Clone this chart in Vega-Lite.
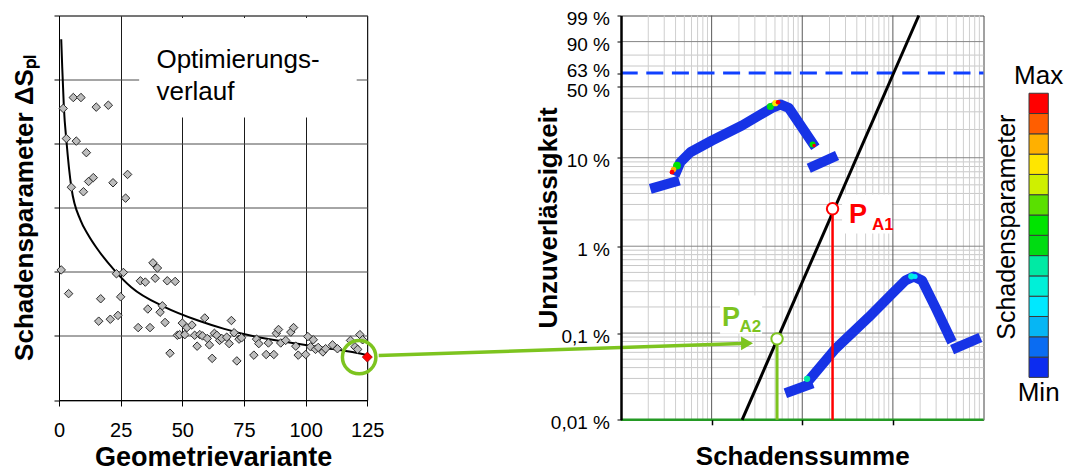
{
  "$schema": "https://vega.github.io/schema/vega-lite/v6.json",
  "background": "white",
  "padding": {"left": 11, "top": 8.5, "right": 4, "bottom": 0},
  "config": {"font": "Liberation Sans", "view": {"stroke": "#444444"}},
  "bounds": "flush",
  "spacing": 253,
  "hconcat": [
    {
      "width": 308.3,
      "height": 384.5,
      "layer": [
        {
          "data": {"values": [{"v": 32.5, "v2": 120.7, "s": 4.41, "s2": 5.96}]},
          "mark": {"type": "rect", "fill": "white"},
          "encoding": {
            "x": {"field": "v", "type": "quantitative", "scale": {"domain": [0, 125], "nice": false, "zero": false},
              "axis": {"values": [0, 25, 50, 75, 100, 125], "grid": true, "gridColor": "#1a1a1a", "gridWidth": 1, "domainColor": "black", "tickColor": "black", "tickSize": 6, "labelFontSize": 20, "labelPadding": 14, "labelFlush": false, "labelColor": "black", "title": "Geometrievariante", "titleFontSize": 27, "titleFontWeight": "bold", "titleColor": "black", "titleY": 57, "titleBaseline": "middle"}},
            "x2": {"field": "v2"},
            "y": {"field": "s", "type": "quantitative", "scale": {"domain": [0, 6], "nice": false},
              "axis": {"values": [0, 1, 2, 3, 4, 5, 6], "labels": false, "grid": true, "gridColor": "#4d4d4d", "domainColor": "black", "tickColor": "black", "tickSize": 5, "title": "Schadensparameter ΔSₚₗ", "titleFontSize": 26, "titleFontWeight": "bold", "titleColor": "black", "titleX": -34.5, "titleY": 192, "titleBaseline": "middle"}},
            "y2": {"field": "s2"}
          }
        },
        {
          "data": {"values": [
            {"v": 0.9, "s": 5.63}, {"v": 1.3, "s": 5.2}, {"v": 2.0, "s": 4.55}, {"v": 3.0, "s": 4.05}, {"v": 5.0, "s": 3.32}, {"v": 8.8, "s": 2.8}, {"v": 11.8, "s": 2.58}, {"v": 15.5, "s": 2.36}, {"v": 22.6, "s": 2.02}, {"v": 29.3, "s": 1.76}, {"v": 42.9, "s": 1.45}, {"v": 56.4, "s": 1.24}, {"v": 67.0, "s": 1.11}, {"v": 79.4, "s": 0.99}, {"v": 92.9, "s": 0.9}, {"v": 106.4, "s": 0.82}, {"v": 120.0, "s": 0.74}, {"v": 125.0, "s": 0.7}
          ]},
          "mark": {"type": "line", "color": "black", "strokeWidth": 2, "interpolate": "monotone"},
          "encoding": {"x": {"field": "v", "type": "quantitative"}, "y": {"field": "s", "type": "quantitative"}}
        },
        {
          "data": {"values": [
            {"v": 0.9, "s": 2.03}, {"v": 1.7, "s": 4.55}, {"v": 3.0, "s": 4.08}, {"v": 3.9, "s": 1.66}, {"v": 5.0, "s": 3.32}, {"v": 5.8, "s": 4.72}, {"v": 7.0, "s": 4.04}, {"v": 8.9, "s": 4.72}, {"v": 9.9, "s": 3.25}, {"v": 11.1, "s": 3.86}, {"v": 12.0, "s": 3.41}, {"v": 13.9, "s": 3.47}, {"v": 15.1, "s": 4.57}, {"v": 16.1, "s": 1.23}, {"v": 16.9, "s": 1.58}, {"v": 20.0, "s": 4.6}, {"v": 20.8, "s": 1.26}, {"v": 21.9, "s": 3.39}, {"v": 23.3, "s": 1.97}, {"v": 23.9, "s": 1.32}, {"v": 25.0, "s": 1.61}, {"v": 26.1, "s": 1.99}, {"v": 27.0, "s": 3.15}, {"v": 27.8, "s": 3.52}, {"v": 32.1, "s": 1.13}, {"v": 33.0, "s": 1.86}, {"v": 35.0, "s": 1.84}, {"v": 36.0, "s": 1.42}, {"v": 36.9, "s": 1.13}, {"v": 38.1, "s": 2.14}, {"v": 39.0, "s": 1.9}, {"v": 39.9, "s": 2.06}, {"v": 41.0, "s": 1.37}, {"v": 41.9, "s": 1.47}, {"v": 43.0, "s": 1.21}, {"v": 43.9, "s": 1.86}, {"v": 45.0, "s": 0.73}, {"v": 47.1, "s": 1.85}, {"v": 48.0, "s": 1.01}, {"v": 48.9, "s": 1.02}, {"v": 50.0, "s": 1.2}, {"v": 51.0, "s": 1.02}, {"v": 51.9, "s": 1.13}, {"v": 53.9, "s": 1.17}, {"v": 55.0, "s": 1.01}, {"v": 56.0, "s": 0.84}, {"v": 57.1, "s": 1.02}, {"v": 58.2, "s": 1.0}, {"v": 59.1, "s": 1.28}, {"v": 60.1, "s": 0.96}, {"v": 61.0, "s": 0.86}, {"v": 62.1, "s": 0.65}, {"v": 63.0, "s": 1.04}, {"v": 64.0, "s": 1.01}, {"v": 65.1, "s": 0.93}, {"v": 66.0, "s": 0.96}, {"v": 68.0, "s": 0.98}, {"v": 69.0, "s": 0.88}, {"v": 69.9, "s": 1.24}, {"v": 71.0, "s": 1.05}, {"v": 72.1, "s": 0.61}, {"v": 73.0, "s": 0.95}, {"v": 74.0, "s": 0.97}, {"v": 79.0, "s": 0.7}, {"v": 80.1, "s": 0.95}, {"v": 81.0, "s": 0.88}, {"v": 84.0, "s": 0.71}, {"v": 84.9, "s": 0.89}, {"v": 87.1, "s": 0.71}, {"v": 88.1, "s": 1.04}, {"v": 89.0, "s": 1.1}, {"v": 89.9, "s": 0.89}, {"v": 91.9, "s": 0.93}, {"v": 94.0, "s": 1.06}, {"v": 95.1, "s": 1.13}, {"v": 96.0, "s": 0.84}, {"v": 97.0, "s": 0.7}, {"v": 100.0, "s": 0.71}, {"v": 100.9, "s": 0.99}, {"v": 102.0, "s": 0.83}, {"v": 103.1, "s": 0.94}, {"v": 104.0, "s": 0.79}, {"v": 105.1, "s": 0.82}, {"v": 107.0, "s": 0.75}, {"v": 108.1, "s": 0.8}, {"v": 110.9, "s": 0.86}, {"v": 112.9, "s": 0.8}, {"v": 118.2, "s": 0.93}, {"v": 120.0, "s": 0.83}, {"v": 121.1, "s": 0.79}, {"v": 122.0, "s": 1.02}, {"v": 123.1, "s": 0.94}
          ]},
          "mark": {"type": "point", "shape": "diamond", "filled": true, "fill": "#bdbdbd", "stroke": "#2a2a2a", "strokeWidth": 1, "size": 72, "opacity": 1},
          "encoding": {"x": {"field": "v", "type": "quantitative"}, "y": {"field": "s", "type": "quantitative"}}
        },
        {
          "data": {"values": [{"v": 125, "s": 0.67}]},
          "mark": {"type": "point", "shape": "diamond", "filled": true, "fill": "#ff0000", "stroke": "#a00000", "strokeWidth": 0.8, "size": 100, "opacity": 1},
          "encoding": {"x": {"field": "v", "type": "quantitative"}, "y": {"field": "s", "type": "quantitative"}}
        },
        {
          "data": {"values": [{"v": 121.7, "s": 0.669}]},
          "mark": {"type": "point", "shape": "circle", "filled": false, "stroke": "#7dc41f", "strokeWidth": 3.5, "size": 1120, "opacity": 1},
          "encoding": {"x": {"field": "v", "type": "quantitative"}, "y": {"field": "s", "type": "quantitative"}}
        },
        {
          "data": {"values": [{"v": 39.5, "s": 5.175, "t": "Optimierungs-"}, {"v": 39.5, "s": 4.68, "t": "verlauf"}]},
          "mark": {"type": "text", "align": "left", "baseline": "alphabetic", "fontSize": 26, "color": "black"},
          "encoding": {"x": {"field": "v", "type": "quantitative"}, "y": {"field": "s", "type": "quantitative"}, "text": {"field": "t"}}
        }
      ]
    },
    {
      "bounds": "flush",
      "spacing": 45,
      "hconcat": [
        {
          "width": 362.5,
          "height": 404.3,
          "layer": [
            {
              "data": {"values": [
                {"w": -8.51709}, {"w": -8.11158}, {"w": -7.82385}, {"w": -7.60065}, {"w": -7.41828}, {"w": -7.26408}, {"w": -7.1305}, {"w": -7.01267},
                {"w": -6.21361}, {"w": -5.80764}, {"w": -5.51946}, {"w": -5.29581}, {"w": -5.11299}, {"w": -4.95834}, {"w": -4.82431}, {"w": -4.70601},
                {"w": -3.90194}, {"w": -3.49137}, {"w": -3.19853}, {"w": -2.9702}, {"w": -2.78263}, {"w": -2.62319}, {"w": -2.48433}, {"w": -2.36116},
                {"w": -1.49994}, {"w": -1.03093}, {"w": -0.67173}, {"w": 0.18563}, {"w": 0.47589}
              ]},
              "mark": {"type": "rule", "color": "#c8c8c8", "strokeWidth": 1},
              "encoding": {
                "y": {"field": "w", "type": "quantitative", "scale": {"domain": [-9.21029, 1.52718], "nice": false, "zero": false},
                  "axis": {"values": [-9.21029, -6.90726, -4.60015, -2.25037, -0.36651, 0, 0.83403, 1.52718],
                    "labelExpr": "datum.value < -8 ? '0,01 %' : datum.value < -6 ? '0,1 %' : datum.value < -4 ? '1 %' : datum.value < -1 ? '10 %' : datum.value < -0.1 ? '50 %' : datum.value < 0.4 ? '63 %' : datum.value < 1.2 ? '90 %' : '99 %'",
                    "labelOffset": {"condition": [{"test": "abs(datum.value) < 0.1", "value": -2.5}, {"test": "abs(datum.value + 0.36651) < 0.1", "value": 3.5}], "value": 3},
                    "labelFontSize": 19, "labelColor": "black", "labelPadding": 7.5, "labelOverlap": false, "tickSize": 4, "tickColor": "black", "domainColor": "black", "domainWidth": 2.5, "grid": false,
                    "title": "Unzuverlässigkeit", "titleFontSize": 26, "titleFontWeight": "bold", "titleColor": "black", "titleX": -73, "titleY": 202, "titleBaseline": "middle", "zindex": 1}}
              }
            },
            {
              "data": {"values": [
                {"s": 2}, {"s": 3}, {"s": 4}, {"s": 5}, {"s": 6}, {"s": 7}, {"s": 8}, {"s": 9},
                {"s": 20}, {"s": 30}, {"s": 40}, {"s": 50}, {"s": 60}, {"s": 70}, {"s": 80}, {"s": 90},
                {"s": 200}, {"s": 300}, {"s": 400}, {"s": 500}, {"s": 600}, {"s": 700}, {"s": 800}, {"s": 900},
                {"s": 2000}, {"s": 3000}, {"s": 4000}, {"s": 5000}, {"s": 6000}, {"s": 7000}, {"s": 8000}, {"s": 9000}
              ]},
              "mark": {"type": "rule", "color": "#cfcfcf", "strokeWidth": 1},
              "encoding": {
                "x": {"field": "s", "type": "quantitative", "scale": {"type": "log", "domain": [1, 10000], "nice": false},
                  "axis": {"values": [10, 100, 1000], "labels": false, "tickSize": 5, "tickWidth": 1.5, "tickColor": "black", "domain": false, "grid": false,
                    "title": "Schadenssumme", "titleFontSize": 26, "titleFontWeight": "bold", "titleColor": "black", "titleY": 37, "titleBaseline": "middle", "zindex": 1}}
              }
            },
            {
              "data": {"values": [{"w": -6.90726}, {"w": -4.60015}, {"w": -2.25037}, {"w": -0.36651}, {"w": 0.83403}]},
              "mark": {"type": "rule", "color": "#858585", "strokeWidth": 1},
              "encoding": {"y": {"field": "w", "type": "quantitative"}}
            },
            {
              "data": {"values": [{"s": 10}, {"s": 100}, {"s": 1000}]},
              "mark": {"type": "rule", "color": "#5a5a5a", "strokeWidth": 1},
              "encoding": {"x": {"field": "s", "type": "quantitative", "scale": {"type": "log", "domain": [1, 10000], "nice": false}}}
            },
            {
              "data": {"values": [{"s": 275, "s2": 980, "w": -4.263, "w2": -3.227}, {"s": 12.4, "s2": 36.1, "w": -6.927, "w2": -5.91}]},
              "mark": {"type": "rect", "fill": "white"},
              "encoding": {
                "x": {"field": "s", "type": "quantitative", "scale": {"type": "log", "domain": [1, 10000], "nice": false}}, "x2": {"field": "s2"},
                "y": {"field": "w", "type": "quantitative"}, "y2": {"field": "w2"}
              }
            },
            {
              "data": {"values": [{"w": 0}]},
              "mark": {"type": "rule", "color": "#1040ff", "strokeWidth": 3, "strokeDash": [17, 8.6], "strokeDashOffset": 12.6},
              "encoding": {"y": {"field": "w", "type": "quantitative"}}
            },
            {
              "data": {"values": [{"w": -9.21029}]},
              "mark": {"type": "rule", "color": "#249a24", "strokeWidth": 2.5},
              "encoding": {"y": {"field": "w", "type": "quantitative"}}
            },
            {
              "data": {"values": [
                {"seg": "u1", "o": 1, "s": 2.106, "w": -3.076}, {"seg": "u1", "o": 2, "s": 4.401, "w": -2.855},
                {"seg": "u2", "o": 1, "s": 3.914, "w": -2.723}, {"seg": "u2", "o": 2, "s": 4.512, "w": -2.369}, {"seg": "u2", "o": 3, "s": 5.82, "w": -2.104}, {"seg": "u2", "o": 4, "s": 10.1, "w": -1.793}, {"seg": "u2", "o": 5, "s": 21.65, "w": -1.395}, {"seg": "u2", "o": 6, "s": 46.4, "w": -0.925}, {"seg": "u2", "o": 7, "s": 57.3, "w": -0.837}, {"seg": "u2", "o": 8, "s": 71.0, "w": -0.925}, {"seg": "u2", "o": 9, "s": 139.5, "w": -1.971},
                {"seg": "u3", "o": 1, "s": 118, "w": -2.529}, {"seg": "u3", "o": 2, "s": 242, "w": -2.191},
                {"seg": "l1", "o": 1, "s": 65.1, "w": -8.505}, {"seg": "l1", "o": 2, "s": 130.6, "w": -8.239},
                {"seg": "l2", "o": 1, "s": 118, "w": -8.168}, {"seg": "l2", "o": 2, "s": 231.9, "w": -7.326}, {"seg": "l2", "o": 3, "s": 542, "w": -6.486}, {"seg": "l2", "o": 4, "s": 979.5, "w": -5.865}, {"seg": "l2", "o": 5, "s": 1374, "w": -5.512}, {"seg": "l2", "o": 6, "s": 1701, "w": -5.405}, {"seg": "l2", "o": 7, "s": 2101, "w": -5.512}, {"seg": "l2", "o": 8, "s": 2944, "w": -6.221}, {"seg": "l2", "o": 9, "s": 4502, "w": -7.15},
                {"seg": "l3", "o": 1, "s": 4502, "w": -7.344}, {"seg": "l3", "o": 2, "s": 9243, "w": -7.025}
              ]},
              "mark": {"type": "line", "color": "#1733e6", "strokeWidth": 10, "strokeCap": "butt", "strokeJoin": "round"},
              "encoding": {
                "x": {"field": "s", "type": "quantitative", "scale": {"type": "log", "domain": [1, 10000], "nice": false}},
                "y": {"field": "w", "type": "quantitative"},
                "detail": {"field": "seg"},
                "order": {"field": "o"}
              }
            },
            {
              "data": {"values": [
                {"s": 4.15, "w": -2.457, "level": 8, "r": 60}, {"s": 3.8, "w": -2.56, "level": 12, "r": 30}, {"s": 3.655, "w": -2.635, "level": 14, "r": 22},
                {"s": 44.5, "w": -0.89, "level": 7, "r": 50}, {"s": 50.5, "w": -0.8, "level": 11, "r": 40}, {"s": 54.1, "w": -0.776, "level": 14, "r": 22},
                {"s": 130, "w": -1.9, "level": 8, "r": 35}, {"s": 135, "w": -1.926, "level": 14, "r": 12},
                {"s": 113, "w": -8.123, "level": 6, "r": 40},
                {"s": 1600, "w": -5.4, "level": 5, "r": 40}, {"s": 1758, "w": -5.405, "level": 4, "r": 25}
              ]},
              "mark": {"type": "point", "shape": "circle", "filled": true, "opacity": 1, "strokeWidth": 0},
              "encoding": {
                "x": {"field": "s", "type": "quantitative", "scale": {"type": "log", "domain": [1, 10000], "nice": false}},
                "y": {"field": "w", "type": "quantitative"},
                "size": {"field": "r", "type": "quantitative", "scale": null},
                "color": {"field": "level", "type": "ordinal", "scale": {"domain": [1, 2, 3, 4, 5, 6, 7, 8, 9, 10, 11, 12, 13, 14], "range": ["#0c2cf0", "#0a6cf2", "#06b6f4", "#00e8ff", "#00f0d8", "#00eaa4", "#00dc12", "#00e400", "#5ae000", "#cff000", "#ffe600", "#ffb000", "#ff5e00", "#ff0000"]}, "legend": null}
              }
            },
            {
              "data": {"values": [{"s": 21.7, "w": -9.21029}, {"s": 1932, "w": 1.52718}]},
              "mark": {"type": "line", "color": "black", "strokeWidth": 3},
              "encoding": {
                "x": {"field": "s", "type": "quantitative", "scale": {"type": "log", "domain": [1, 10000], "nice": false}},
                "y": {"field": "w", "type": "quantitative"}
              }
            },
            {
              "data": {"values": [{"s": 216, "w": -3.607, "w2": -9.21029}]},
              "mark": {"type": "rule", "color": "#ff0000", "strokeWidth": 2.5},
              "encoding": {"x": {"field": "s", "type": "quantitative", "scale": {"type": "log", "domain": [1, 10000], "nice": false}}, "y": {"field": "w", "type": "quantitative"}, "y2": {"field": "w2"}}
            },
            {
              "data": {"values": [{"s": 52.7, "w": -7.06, "w2": -9.21029}]},
              "mark": {"type": "rule", "color": "#7dc41f", "strokeWidth": 3},
              "encoding": {"x": {"field": "s", "type": "quantitative", "scale": {"type": "log", "domain": [1, 10000], "nice": false}}, "y": {"field": "w", "type": "quantitative"}, "y2": {"field": "w2"}}
            },
            {
              "data": {"values": [{"s": 216, "w": -3.607}]},
              "mark": {"type": "point", "shape": "circle", "filled": false, "fill": "white", "fillOpacity": 1, "stroke": "#ff0000", "strokeWidth": 2, "size": 130, "opacity": 1},
              "encoding": {"x": {"field": "s", "type": "quantitative", "scale": {"type": "log", "domain": [1, 10000], "nice": false}}, "y": {"field": "w", "type": "quantitative"}}
            },
            {
              "data": {"values": [{"s": 52.7, "w": -7.06}]},
              "mark": {"type": "point", "shape": "circle", "filled": false, "fill": "white", "fillOpacity": 1, "stroke": "#7dc41f", "strokeWidth": 2, "size": 130, "opacity": 1},
              "encoding": {"x": {"field": "s", "type": "quantitative", "scale": {"type": "log", "domain": [1, 10000], "nice": false}}, "y": {"field": "w", "type": "quantitative"}}
            },
            {
              "data": {"values": [{"s": 328.6, "w": -3.782, "t": "P"}]},
              "mark": {"type": "text", "align": "left", "baseline": "middle", "fontSize": 27, "fontWeight": "bold", "color": "#ff0000"},
              "encoding": {"x": {"field": "s", "type": "quantitative", "scale": {"type": "log", "domain": [1, 10000], "nice": false}}, "y": {"field": "w", "type": "quantitative"}, "text": {"field": "t"}}
            },
            {
              "data": {"values": [{"s": 589, "w": -4.037, "t": "A1"}]},
              "mark": {"type": "text", "align": "left", "baseline": "middle", "fontSize": 17, "fontWeight": "bold", "color": "#ff0000"},
              "encoding": {"x": {"field": "s", "type": "quantitative", "scale": {"type": "log", "domain": [1, 10000], "nice": false}}, "y": {"field": "w", "type": "quantitative"}, "text": {"field": "t"}}
            },
            {
              "data": {"values": [{"s": 13.02, "w": -6.497, "t": "P"}]},
              "mark": {"type": "text", "align": "left", "baseline": "middle", "fontSize": 27, "fontWeight": "bold", "color": "#7dc41f"},
              "encoding": {"x": {"field": "s", "type": "quantitative", "scale": {"type": "log", "domain": [1, 10000], "nice": false}}, "y": {"field": "w", "type": "quantitative"}, "text": {"field": "t"}}
            },
            {
              "data": {"values": [{"s": 20.32, "w": -6.733, "t": "A2"}]},
              "mark": {"type": "text", "align": "left", "baseline": "middle", "fontSize": 17, "fontWeight": "bold", "color": "#7dc41f"},
              "encoding": {"x": {"field": "s", "type": "quantitative", "scale": {"type": "log", "domain": [1, 10000], "nice": false}}, "y": {"field": "w", "type": "quantitative"}, "text": {"field": "t"}}
            },
            {
              "data": {"values": [{"s": 0.00212, "w": -7.504, "s2": 21.65, "w2": -7.185}]},
              "mark": {"type": "rule", "color": "#7dc41f", "strokeWidth": 3.5},
              "encoding": {"x": {"field": "s", "type": "quantitative", "scale": {"type": "log", "domain": [1, 10000], "nice": false}}, "x2": {"field": "s2"}, "y": {"field": "w", "type": "quantitative"}, "y2": {"field": "w2"}}
            },
            {
              "data": {"values": [{"s": 24.6, "w": -7.18}]},
              "mark": {"type": "point", "shape": "triangle-right", "filled": true, "color": "#7dc41f", "size": 190, "opacity": 1},
              "encoding": {"x": {"field": "s", "type": "quantitative", "scale": {"type": "log", "domain": [1, 10000], "nice": false}}, "y": {"field": "w", "type": "quantitative"}}
            }
          ]
        },
        {
          "width": 19.3,
          "height": 404.3,
          "view": {"stroke": null},
          "layer": [
            {
              "data": {"values": [
                {"level": 1, "lo": 0, "hi": 1}, {"level": 2, "lo": 1, "hi": 2}, {"level": 3, "lo": 2, "hi": 3}, {"level": 4, "lo": 3, "hi": 4}, {"level": 5, "lo": 4, "hi": 5}, {"level": 6, "lo": 5, "hi": 6}, {"level": 7, "lo": 6, "hi": 7},
                {"level": 8, "lo": 7, "hi": 8}, {"level": 9, "lo": 8, "hi": 9}, {"level": 10, "lo": 9, "hi": 10}, {"level": 11, "lo": 10, "hi": 11}, {"level": 12, "lo": 11, "hi": 12}, {"level": 13, "lo": 12, "hi": 13}, {"level": 14, "lo": 13, "hi": 14}
              ]},
              "mark": {"type": "rect", "stroke": "#3a3a3a", "strokeWidth": 1},
              "encoding": {
                "x": {"datum": 0, "type": "quantitative", "scale": {"domain": [0, 1], "nice": false}, "axis": null},
                "x2": {"datum": 1},
                "y": {"field": "lo", "type": "quantitative", "scale": {"domain": [-2.09, 17.83], "nice": false, "zero": false}, "axis": null},
                "y2": {"field": "hi"},
                "color": {"field": "level", "type": "ordinal", "scale": {"domain": [1, 2, 3, 4, 5, 6, 7, 8, 9, 10, 11, 12, 13, 14], "range": ["#0c2cf0", "#0a6cf2", "#06b6f4", "#00e8ff", "#00f0d8", "#00eaa4", "#00dc12", "#00e400", "#5ae000", "#cff000", "#ffe600", "#ffb000", "#ff5e00", "#ff0000"]}, "legend": null}
              }
            },
            {
              "data": {"values": [{"t": "Max", "lo": 14.85}, {"t": "Min", "lo": -0.75}]},
              "mark": {"type": "text", "align": "center", "baseline": "middle", "fontSize": 26, "color": "black"},
              "encoding": {
                "x": {"datum": 0.5, "type": "quantitative"},
                "y": {"field": "lo", "type": "quantitative"},
                "text": {"field": "t"}
              }
            },
            {
              "data": {"values": [{"t": "Schadensparameter", "lo": 7.4}]},
              "mark": {"type": "text", "align": "center", "baseline": "middle", "fontSize": 25, "angle": 270, "color": "black"},
              "encoding": {
                "x": {"datum": -1.15, "type": "quantitative"},
                "y": {"field": "lo", "type": "quantitative"},
                "text": {"field": "t"}
              }
            }
          ]
        }
      ]
    }
  ]
}
